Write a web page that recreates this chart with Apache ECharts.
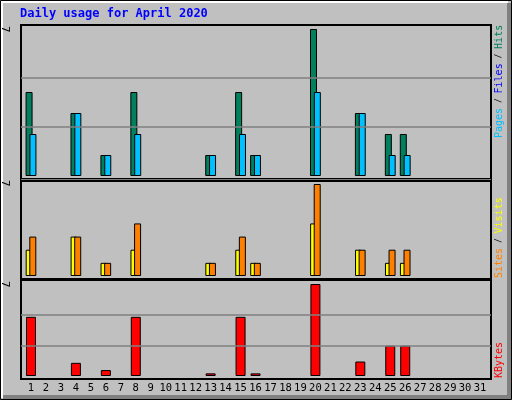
<!DOCTYPE html>
<html><head><meta charset="utf-8">
<script src="https://cdn.jsdelivr.net/npm/echarts@6/dist/echarts.min.js"></script>
<style>html,body{margin:0;padding:0;background:#c0c0c0}#c{width:512px;height:400px}</style>
</head><body><div id="c"></div>
<script>
const days = Array.from({length:31},(_, i)=>i+1);
const weekendDays = [4,5,11,12,18,19,25,26];
const hits   = [4,0,0,3,0,1,0,4,0,0,0,0,1,0,4,1,0,0,0,7,0,0,3,0,2,2,0,0,0,0,0];
const pages  = [2,0,0,3,0,1,0,2,0,0,0,0,1,0,2,1,0,0,0,4,0,0,3,0,1,1,0,0,0,0,0];
const sites  = [2,0,0,3,0,1,0,2,0,0,0,0,1,0,2,1,0,0,0,4,0,0,2,0,1,1,0,0,0,0,0];
const visits = [3,0,0,3,0,1,0,4,0,0,0,0,1,0,3,1,0,0,0,7,0,0,2,0,2,2,0,0,0,0,0];
const kbytes = [4.5,0,0,1.0,0,0.45,0,4.5,0,0,0,0,0.2,0,4.5,0.2,0,0,0,7,0,0,1.1,0,2.3,2.3,0,0,0,0,0];
const yMaxLabel = '7';

const pair = a => a.map((v,i)=>[days[i], v||null]);
const XMIN = 0.332, XMAX = 31.73;
const grids = [
  {left:21, width:470, top:26, height:150},
  {left:21, width:470, top:181, height:95},
  {left:21, width:470, top:281, height:95}
];
const ymax = [7*150/147, 7*95/92, 7*95/92];
const mono = 'DejaVu Sans Mono';
const xAxes = grids.map((g,i)=>({type:'value', gridIndex:i, min:XMIN, max:XMAX,
  axisLine:{show:false}, axisTick:{show:false}, splitLine:{show:false},
  axisLabel:{show:i===2, hideOverlap:false, showMinLabel:true, showMaxLabel:true, margin:7, customValues:days,
    fontFamily:mono, fontSize:10.5,
    color:(v)=>weekendDays.includes(v)?'#00805c':'#000'}}));
const yAxes = grids.map((g,i)=>({type:'value', gridIndex:i, min:0, max:ymax[i],
  axisLine:{show:false}, axisTick:{show:false}, splitLine:{show:false}, axisLabel:{show:false}}));
const ml = {silent:true, symbol:'none', label:{show:false}, lineStyle:{color:'#808080', type:'solid', width:1.5},
  data:[{yAxis:7/3},{yAxis:14/3}]};
const bs = {borderColor:'#000', borderWidth:1};
const series = [
  {type:'bar', xAxisIndex:0, yAxisIndex:0, data:pair(hits), barWidth:7, barGap:'-45%', itemStyle:{color:'#00805c',...bs}, markLine:ml},
  {type:'bar', xAxisIndex:0, yAxisIndex:0, data:pair(pages), barWidth:7, itemStyle:{color:'#00c0ff',...bs}},
  {type:'bar', xAxisIndex:1, yAxisIndex:1, data:pair(sites), barWidth:6, barGap:'-40%', itemStyle:{color:'#ffff00',...bs}},
  {type:'bar', xAxisIndex:1, yAxisIndex:1, data:pair(visits), barWidth:7, itemStyle:{color:'#ff8000',...bs}},
  {type:'bar', xAxisIndex:2, yAxisIndex:2, data:pair(kbytes), barWidth:10, itemStyle:{color:'#ff0000',...bs}, markLine:ml}
];
const graphic = [
  {type:'rect', shape:{x:0.5,y:0.5,width:511,height:399}, style:{fill:null, stroke:'#000', lineWidth:1}, z:-1},
  {type:'polyline', shape:{points:[[2,398],[2,2],[508,2]]}, style:{stroke:'#fff', lineWidth:2, fill:null}},
  {type:'polyline', shape:{points:[[509,3],[509,397],[3,397]]}, style:{stroke:'#808080', lineWidth:4, fill:null}},
  {type:'rect', shape:{x:21,y:25,width:470,height:154}, style:{fill:null, stroke:'#000', lineWidth:2}},
  {type:'line', shape:{x1:21,y1:180,x2:491,y2:180}, style:{stroke:'#fff', lineWidth:1}},
  {type:'rect', shape:{x:21,y:181,width:470,height:98}, style:{fill:null, stroke:'#000', lineWidth:2}},
  {type:'rect', shape:{x:21,y:280,width:470,height:99}, style:{fill:null, stroke:'#000', lineWidth:2}},
  {type:'text', x:20, y:8, style:{text:'Daily usage for April 2020', fill:'#0000ff', font:'bold 12px "'+mono+'"'}},
  {type:'text', x:10, y:26, rotation:-Math.PI/2, style:{text:yMaxLabel, fill:'#000', font:'11px "'+mono+'"'}},
  {type:'text', x:10, y:180, rotation:-Math.PI/2, style:{text:yMaxLabel, fill:'#000', font:'11px "'+mono+'"'}},
  {type:'text', x:10, y:281, rotation:-Math.PI/2, style:{text:yMaxLabel, fill:'#000', font:'11px "'+mono+'"'}},
  {type:'text', x:494, y:138, rotation:Math.PI/2, style:{text:'{p|Pages}{s| / }{f|Files}{s| / }{h|Hits}', font:'10px "'+mono+'"',
    rich:{p:{fill:'#00c0ff',font:'10px "'+mono+'"'},s:{fill:'#000',font:'8px "'+mono+'"'},f:{fill:'#0000ff',font:'10px "'+mono+'"'},h:{fill:'#00805c',font:'10px "'+mono+'"'}}}},
  {type:'text', x:494, y:278, rotation:Math.PI/2, style:{text:'{a|Sites}{s| / }{b|Visits}', font:'10px "'+mono+'"',
    rich:{a:{fill:'#ff8000',font:'10px "'+mono+'"'},s:{fill:'#000',font:'8px "'+mono+'"'},b:{fill:'#ffff00',font:'10px "'+mono+'"'}}}},
  {type:'text', x:494, y:378, rotation:Math.PI/2, style:{text:'KBytes', fill:'#ff0000', font:'10px "'+mono+'"'}}
];
const chart = echarts.init(document.getElementById('c'));
chart.setOption({backgroundColor:'#c0c0c0', animation:false, grid:grids, xAxis:xAxes, yAxis:yAxes, series, graphic});
</script></body></html>
